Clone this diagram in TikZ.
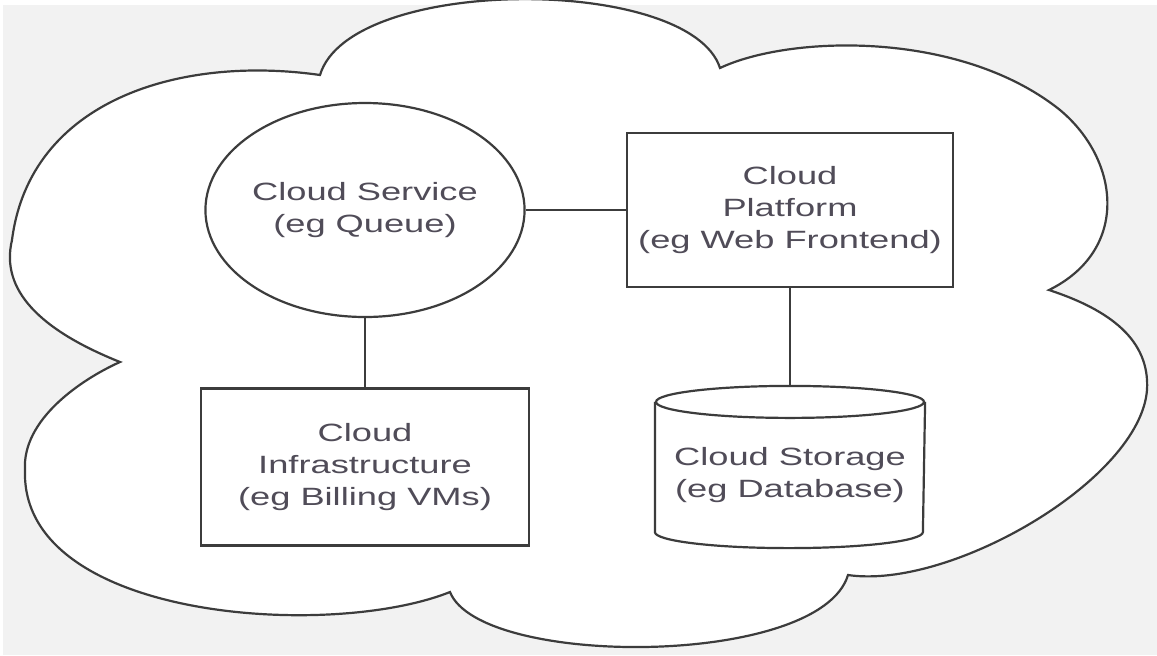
\documentclass[tikz,border=0pt]{standalone}
\usepackage{fontspec}
\newfontfamily\diagfont[FakeStretch=1.45]{Liberation Sans}
\usetikzlibrary{shapes.geometric}
\definecolor{linegray}{RGB}{60,60,60}
\definecolor{textgray}{RGB}{80,76,88}
\definecolor{bggray}{RGB}{242,242,242}

\begin{document}
\begin{tikzpicture}
        [
            x = 0.5pt, y = -0.5pt,
            link/.style = {draw = linegray, line width = 1.1pt},
            part/.style = {link, fill = white, text = textgray, align = center, inner sep = 0pt,
                font = \diagfont\fontsize{12.5pt}{16pt}\selectfont},
            boxpart/.style = {part, rectangle, minimum width = 163pt, minimum height = 77pt}
        ]
            \useasboundingbox (0,0) rectangle (1157,655);
            \fill [white] (0,0) rectangle (1157,655);
            \fill [bggray] (3,5) rectangle (1157,655);
            % the cloud
            \draw [link, fill = white]
                (320,75) .. controls (350,-25) and (690,-25) .. (720,68)
                .. controls (790,35) and (960,30) .. (1060,110)
                .. controls (1120,160) and (1130,250) .. (1049,290)
                .. controls (1110,310) and (1150,340) .. (1147,390)
                .. controls (1140,480) and (950,590) .. (848,575)
                .. controls (820,668) and (480,668) .. (450,592)
                .. controls (330,640) and (20,620) .. (25,470)
                .. controls (22,420) and (80,380) .. (120,362)
                .. controls (40,330) and (0,290) .. (12,240)
                .. controls (30,100) and (180,55) .. (320,75)
                -- cycle;
            \node [part, ellipse, minimum width = 133pt, minimum height = 107pt] (service) at (365,210)
                {Cloud Service\\(eg Queue)};
            \node [boxpart] (platform) at (790,210) {Cloud\\Platform\\(eg Web Frontend)};
            \node [boxpart, minimum width = 164pt, minimum height = 78.5pt] (infra) at (365,467)
                {Cloud\\Infrastructure\\(eg Billing VMs)};
            \node [part, draw = none, fill = none, minimum width = 134pt, minimum height = 72pt] (store) at (790,475)
                {Cloud Storage\\(eg Database)};
            % cylinder round the storage
            \draw [link] (store.north) ellipse [x radius = 67pt, y radius = 8pt];
            \draw [link] (store.north west) -- ([yshift = 8pt]store.south west)
                arc [start angle = 180, end angle = 360, x radius = 67pt, y radius = 8pt]
                -- (store.north east);
            \coordinate (storetop) at ([yshift = 8pt]store.north);
            \draw [link] (service) -- (platform);
            \draw [link] (service.south) -- (infra.north);
            \draw [link] (platform.south) -- (storetop);
        \end{tikzpicture}
\end{document}
